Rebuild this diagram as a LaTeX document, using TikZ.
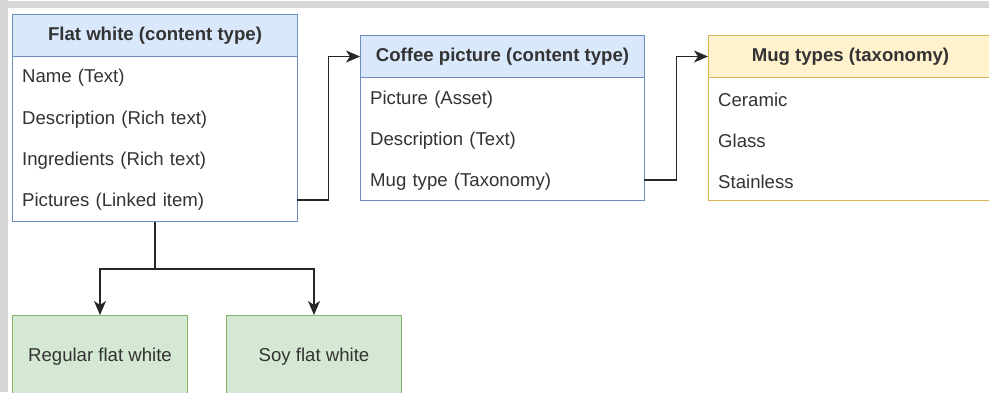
\documentclass[tikz,border=0pt]{standalone}
\usepackage{fontspec}
\setmainfont{Liberation Sans}
\usetikzlibrary{arrows.meta,positioning}
\definecolor{framegray}{HTML}{D6D6D6}
\definecolor{bluefill}{HTML}{DAE8FC}
\definecolor{bluedraw}{HTML}{6C8EBF}
\definecolor{yelfill}{HTML}{FFF2CC}
\definecolor{yeldraw}{HTML}{D6B656}
\definecolor{grnfill}{HTML}{D5E8D4}
\definecolor{grndraw}{HTML}{82B366}
\definecolor{txt}{HTML}{333333}
\tikzset{
  every node/.style={font=\fontsize{18.6}{22}\selectfont, text=txt},
  hdr/.style={draw=#1, line width=1pt, minimum height=42pt, inner sep=0pt, anchor=north west, font=\fontsize{18.6}{22}\selectfont\bfseries},
  body/.style={draw=#1, line width=1pt, fill=white, inner sep=0pt, anchor=north west},
  rowitem/.style={anchor=west, inner xsep=10pt, inner ysep=0pt, text width=265pt, align=left, minimum height=30pt},
  leaf/.style={draw=grndraw, fill=grnfill, line width=1pt, minimum width=175pt, minimum height=82pt, inner sep=0pt, anchor=north west},
  conn/.style={draw=black!85, line width=1.3pt, -{Stealth[length=14pt,width=12pt,inset=4pt]}},
  plain/.style={draw=black!85, line width=1.3pt}
}
\begin{document}
\begin{tikzpicture}[x=1pt,y=-1pt]
\useasboundingbox (0,0) rectangle (989,392);
\clip (0,0) rectangle (989,392);
\fill[white] (0,0) rectangle (989,392);
\fill[framegray] (0,1) rectangle (989,8);
\fill[framegray] (0,0) rectangle (8,392);

% Flat white
\node[body=bluedraw, minimum width=285pt, minimum height=165pt] (fwb) at (12,56) {};
\node[hdr=bluedraw, fill=bluefill, minimum width=285pt] (fwh) at (12,14) {Flat white (content type)};
\node[rowitem] (fw1) at (12,78) {Name (Text)};
\node[rowitem] (fw2) at (12,120) {Description (Rich text)};
\node[rowitem] (fw3) at (12,161) {Ingredients (Rich text)};
\node[rowitem] (fw4) at (12,202) {Pictures (Linked item)};

% Coffee picture
\node[body=bluedraw, minimum width=284pt, minimum height=123pt] (cpb) at (360,77) {};
\node[hdr=bluedraw, fill=bluefill, minimum width=284pt] (cph) at (360,35) {Coffee picture (content type)};
\node[rowitem, text width=264pt] (cp1) at (360,100) {Picture (Asset)};
\node[rowitem, text width=264pt] (cp2) at (360,141) {Description (Text)};
\node[rowitem, text width=264pt] (cp3) at (360,182) {Mug type (Taxonomy)};

% Mug types (cut off at the right edge)
\draw[yeldraw, fill=white, line width=1pt] (1000,77) -- (708,77) -- (708,200) -- (1000,200);
\draw[yeldraw, fill=yelfill, line width=1pt] (1000,35) -- (708,35) -- (708,77) -- (1000,77);
\node[hdr=none, draw=none, minimum width=284pt] (mth) at (708,35) {Mug types (taxonomy)};
\node[rowitem] (mt1) at (708,100) {Ceramic};
\node[rowitem] (mt2) at (708,141) {Glass};
\node[rowitem] (mt3) at (708,182) {Stainless};

% Leaves
\node[leaf] (reg) at (12,315) {Regular flat white};
\node[leaf] (soy) at (226,315) {Soy flat white};

% Connectors
\draw[conn] (fw4.east |- 0,200) -- ++(31,0) |- (cph.west);
\draw[conn] (cp3.east |- 0,180) -- ++(32,0) |- (mth.west);
\draw[plain] (fwb.south) -- ++(0,47) coordinate (split);
\draw[conn] (split) -| (reg.north);
\draw[conn] (split) -| (soy.north);
\end{tikzpicture}
\end{document}
